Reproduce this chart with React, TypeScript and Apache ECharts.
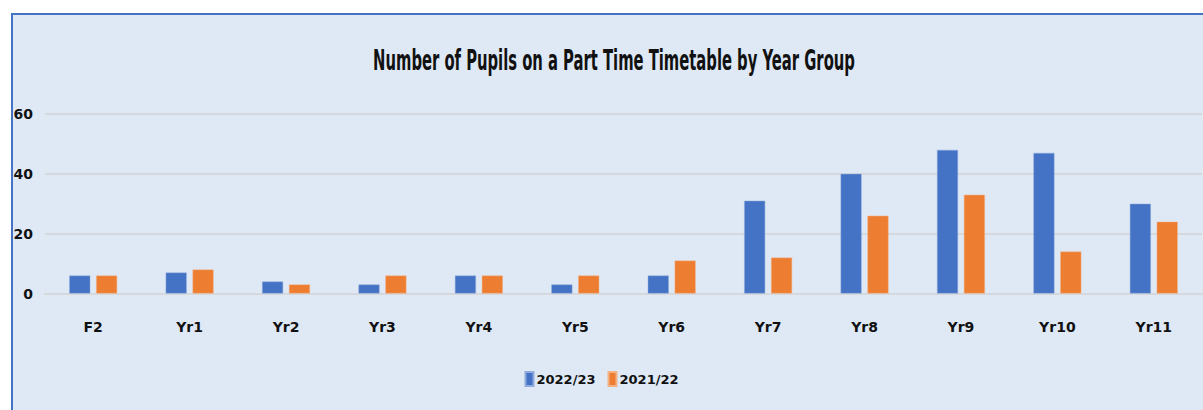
import React, { useEffect, useRef } from "react";
import * as echarts from "echarts";

const categories = ["F2", "Yr1", "Yr2", "Yr3", "Yr4", "Yr5", "Yr6", "Yr7", "Yr8", "Yr9", "Yr10", "Yr11"];
const series2223 = [6, 7, 4, 3, 6, 3, 6, 31, 40, 48, 47, 30];
const series2122 = [6, 8, 3, 6, 6, 6, 11, 12, 26, 33, 14, 24];
const seriesNames = ["2022/23", "2021/22"];
const titleText = "Number of Pupils on a Part Time Timetable by Year Group";

const FONT = "'DejaVu Sans', sans-serif";

export default function App() {
  const ref = useRef<HTMLDivElement>(null);
  useEffect(() => {
    document.body.style.margin = "0";
    const chart = echarts.init(ref.current!, null, { renderer: "svg" });
    chart.setOption({
      animation: false,
      backgroundColor: "#ffffff",
      graphic: [
        {
          type: "rect",
          z: -10,
          silent: true,
          shape: { x: 12, y: 14, width: 1200, height: 410 },
          style: { fill: "#DEE9F5", stroke: "#4472C4", lineWidth: 2 },
        },
        {
          type: "text",
          x: 614,
          y: 60,
          scaleX: 0.51,
          silent: true,
          style: {
            text: titleText,
            fontFamily: FONT,
            fontSize: 29,
            fontWeight: "bold",
            fill: "#111",
            align: "center",
            verticalAlign: "middle",
          },
        },
      ],
      legend: {
        data: seriesNames,
        bottom: 18,
        left: "center",
        itemWidth: 8,
        itemHeight: 14,
        itemGap: 12,
        icon: "rect",
        textStyle: { fontFamily: FONT, fontSize: 13, fontWeight: "bold", color: "#111", padding: [0, 0, 0, -2] },
      },
      grid: { left: 45, right: 1, top: 114, height: 179.5, containLabel: false },
      xAxis: {
        type: "category",
        data: categories,
        axisLine: { show: true, lineStyle: { color: "#D6D8DC", width: 2 } },
        axisTick: { show: false },
        axisLabel: { fontFamily: FONT, fontSize: 14, fontWeight: "bold", color: "#111", margin: 26 },
      },
      yAxis: {
        type: "value",
        min: 0,
        max: 60,
        interval: 20,
        axisLine: { show: false },
        axisTick: { show: false },
        axisLabel: { fontFamily: FONT, fontSize: 14, fontWeight: "bold", color: "#111", margin: 12 },
        splitLine: { lineStyle: { color: "#D6D8DC", width: 2 } },
      },
      series: [
        {
          name: seriesNames[0],
          type: "bar",
          data: series2223,
          barWidth: 21,
          barGap: "28%",
          itemStyle: { color: "#4472C4", borderColor: "#8FAADC", borderWidth: 0.5 },
        },
        {
          name: seriesNames[1],
          type: "bar",
          data: series2122,
          barWidth: 21,
          barGap: "28%",
          itemStyle: { color: "#ED7D31", borderColor: "#F4B183", borderWidth: 0.5 },
        },
      ],
    });
    return () => chart.dispose();
  }, []);
  return <div ref={ref} style={{ width: 1203, height: 410 }} />;
}
